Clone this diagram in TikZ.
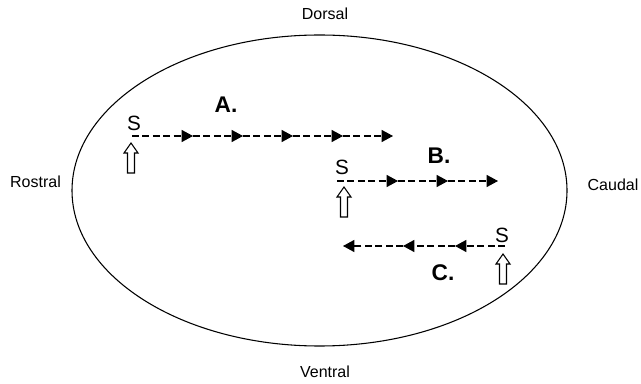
\documentclass[tikz,border=0pt]{standalone}
\usepackage{fontspec}
\setmainfont{Liberation Sans}
\usetikzlibrary{arrows.meta,shapes.geometric}
\tikzset{
  flow/.style={line width=0.8pt, dash pattern=on 5.2pt off 2.6pt, -{Triangle[length=8.5pt,width=9pt]}},
  region/.style={font=\fontsize{12}{14}\selectfont, inner sep=0pt},
  tag/.style={font=\fontsize{17}{19}\selectfont\bfseries, inner sep=0pt},
  stim/.style={font=\fontsize{15.5}{17}\selectfont, inner sep=0pt},
  probe/.style={draw, line width=0.8pt, fill=white, line join=miter}
}
% open upward arrow marking a stimulation site, tip at (#1,#2)
\newcommand{\stimarrow}[2]{%
  \draw[probe] (#1,#2) -- ++(7,10) -- ++(-3.5,0) -- ++(0,20) -- ++(-7,0) -- ++(0,-20) -- ++(-3.5,0) -- cycle;}
\begin{document}
\begin{tikzpicture}[x=0.75pt,y=-0.75pt]
\useasboundingbox (0,0) rectangle (641,384);
% brain outline
\node[draw, line width=0.8pt, ellipse, minimum width=495*0.75pt, minimum height=311*0.75pt, inner sep=0pt] (brain) at (319.5,190.5) {};
\node[region] (dorsal) at (325,14) {Dorsal};
\node[region] (ventral) at (325,372) {Ventral};
\node[region] (rostral) at (35.5,182) {Rostral};
\node[region] (caudal) at (613,185) {Caudal};

% row A: rostral to caudal
\coordinate (a0) at (132,136);
\coordinate (a1) at (193,136);
\coordinate (a2) at (243,136);
\coordinate (a3) at (293,136);
\coordinate (a4) at (343,136);
\coordinate (a5) at (393,136);
\draw[flow] (a0) -- (a1);
\draw[flow] (a1) -- (a2);
\draw[flow] (a2) -- (a3);
\draw[flow] (a3) -- (a4);
\draw[flow] (a4) -- (a5);
\node[stim] (sa) at (134,123) {S};
\node[tag] (la) at (226,105) {A.};
\stimarrow{131}{143}

% row B
\coordinate (b0) at (337,181);
\coordinate (b1) at (398,181);
\coordinate (b2) at (448,181);
\coordinate (b3) at (498,181);
\draw[flow] (b0) -- (b1);
\draw[flow] (b1) -- (b2);
\draw[flow] (b2) -- (b3);
\node[stim] (sb) at (342,167) {S};
\node[tag] (lb) at (439,156) {B.};
\stimarrow{344}{187}

% row C: caudal to rostral
\coordinate (c0) at (505,246);
\coordinate (c1) at (455,246);
\coordinate (c2) at (403,246);
\coordinate (c3) at (343,246);
\draw[flow] (c0) -- (c1);
\draw[flow] (c1) -- (c2);
\draw[flow] (c2) -- (c3);
\node[stim] (sc) at (502,235) {S};
\node[tag] (lc) at (443,273) {C.};
\stimarrow{503}{254}
\end{tikzpicture}
\end{document}
